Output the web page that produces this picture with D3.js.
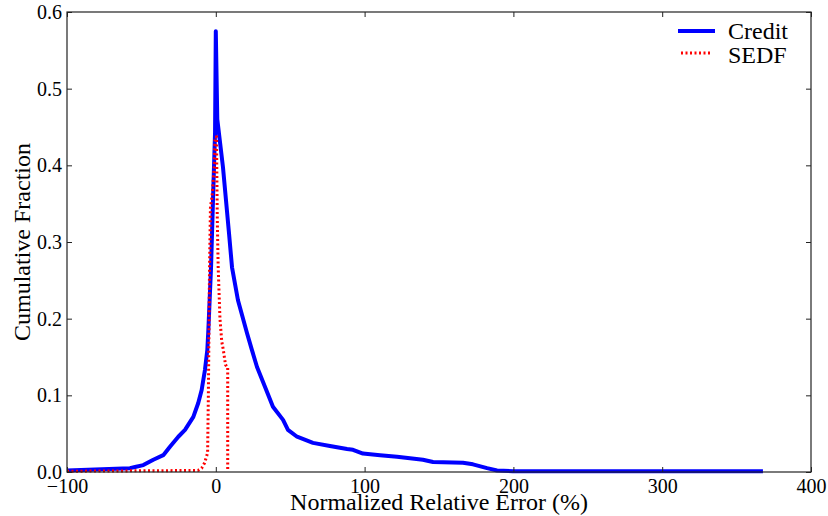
<!DOCTYPE html>
<html>
<head>
<meta charset="utf-8">
<script src="https://cdn.jsdelivr.net/npm/d3@7"></script>
<style>
  body { margin: 0; background: #fff; }
</style>
</head>
<body>
<div class="chart"></div>
<script>
var font = "Liberation Serif";

// Credit curve (x = error %, y = fraction)
var creditX = [-100, -57.7, -54.3, -48.7, -42, -35.3, -30.8, -25.2, -20.7, -15.1, -11.8, -9.5, -7.3, -5.7, -5.0,
  -3.2, -1.9, -0.5, 0,
  1.0, 4.8, 8.9, 10.9, 14.9, 21, 24.3, 27.7, 33.1, 38.4, 45.2, 48.5, 54.6, 65.3, 76.7, 88.2, 92.2,
  98.9, 110.4, 121.8, 139.2, 146, 166.1, 172.8, 182.3, 189, 199.7, 367.7];
var creditY = [0.002, 0.005, 0.0065, 0.009, 0.016, 0.022, 0.033, 0.046, 0.055, 0.072, 0.090, 0.107, 0.133, 0.159, 0.185,
  0.267, 0.354, 0.443, 0.575,
  0.46, 0.398, 0.311, 0.267, 0.224, 0.181, 0.159, 0.137, 0.111, 0.085, 0.068, 0.055, 0.046, 0.038, 0.034, 0.030, 0.029,
  0.024, 0.022, 0.020, 0.016, 0.013, 0.012, 0.010, 0.005, 0.002, 0.001, 0.001];

// SEDF curve
var sedfX = [-100, -12, -9.5, -7.5, -5.5, -5.0, -4.6, -4.2, -3.6, -2.5, -1, -0.5, 0.5, 0.6, 1.0, 1.6, 2.8, 4.0, 5.0, 6.5, 7.5, 8.0, 8.0];
var sedfY = [0.001, 0.002, 0.005, 0.012, 0.025, 0.1, 0.18, 0.27, 0.345, 0.36, 0.40, 0.437, 0.437, 0.41, 0.33, 0.267, 0.2, 0.17, 0.16, 0.14, 0.137, 0.137, 0.001];

var xTicks = [-100, 0, 100, 200, 300, 400];
var yTicks = [0, 0.1, 0.2, 0.3, 0.4, 0.5, 0.6];
var seriesNames = ["Credit", "SEDF"];

var margin = {top: 12, right: 17, bottom: 44, left: 67},
    width = 828 - margin.left - margin.right,
    height = 516 - margin.top - margin.bottom;

var svg = d3.select(".chart")
  .append("svg")
  .attr("width", 828)
  .attr("height", 516)
  .attr("font-family", font)
  .append("g")
  .attr("transform", "translate(" + margin.left + "," + margin.top + ")");

var x = d3.scaleLinear().domain([-100, 400]).range([0, width]);
var y = d3.scaleLinear().domain([0, 0.6]).range([height, 0]);

var credit = creditX.map(function(d, i) { return {x: d, y: creditY[i]}; });
var sedf = sedfX.map(function(d, i) { return {x: d, y: sedfY[i]}; });

var line = d3.line()
  .x(function(d) { return x(d.x); })
  .y(function(d) { return y(d.y); });

svg.append("path")
  .datum(credit)
  .attr("fill", "none")
  .attr("stroke", "#0000ff")
  .attr("stroke-width", 4)
  .attr("stroke-linejoin", "round")
  .attr("d", line);

svg.append("path")
  .datum(sedf)
  .attr("fill", "none")
  .attr("stroke", "#ff0000")
  .attr("stroke-width", 3)
  .attr("stroke-dasharray", "2,2.5")
  .attr("d", line);

// frame
svg.append("rect")
  .attr("width", width)
  .attr("height", height)
  .attr("fill", "none")
  .attr("stroke", "#222")
  .attr("stroke-width", 1.2);

var fmtX = function(d) { return d < 0 ? "\u2212" + Math.abs(d) : d; };

// axes with inward ticks
svg.append("g")
  .attr("transform", "translate(0," + height + ")")
  .call(d3.axisBottom(x).tickValues(xTicks).tickSize(-5).tickPadding(7).tickFormat(fmtX))
  .call(function(g) { g.select(".domain").remove(); });

svg.append("g")
  .call(d3.axisTop(x).tickValues(xTicks).tickSize(-5).tickFormat(""))
  .call(function(g) { g.select(".domain").remove(); });

svg.append("g")
  .call(d3.axisLeft(y).tickValues(yTicks).tickSize(-5).tickPadding(5).tickFormat(d3.format(".1f")))
  .call(function(g) { g.select(".domain").remove(); });

svg.append("g")
  .attr("transform", "translate(" + width + ",0)")
  .call(d3.axisRight(y).tickValues(yTicks).tickSize(-5).tickFormat(""))
  .call(function(g) { g.select(".domain").remove(); });

svg.selectAll("g").attr("font-family", font).attr("font-size", 20);
svg.selectAll(".tick line").attr("stroke", "#222");
svg.selectAll(".tick text").attr("fill", "#000");

// axis labels
svg.append("text")
  .attr("x", width / 2)
  .attr("y", height + 38)
  .attr("text-anchor", "middle")
  .attr("font-size", 24)
  .text("Normalized Relative Error (%)");

svg.append("text")
  .attr("transform", "rotate(-90)")
  .attr("x", -height / 2)
  .attr("y", -37)
  .attr("text-anchor", "middle")
  .attr("font-size", 24)
  .text("Cumulative Fraction");

// legend
var legend = svg.append("g").attr("transform", "translate(" + (width - 133) + ",19)");
legend.append("line")
  .attr("x1", 0).attr("x2", 37).attr("y1", 0).attr("y2", 0)
  .attr("stroke", "#0000ff").attr("stroke-width", 4);
legend.append("line")
  .attr("x1", 3).attr("x2", 33).attr("y1", 22).attr("y2", 22)
  .attr("stroke", "#ff0000").attr("stroke-width", 3).attr("stroke-dasharray", "2,2.5");
legend.selectAll("text.lg")
  .data(seriesNames)
  .enter()
  .append("text")
  .attr("class", "lg")
  .attr("x", 50)
  .attr("y", function(d, i) { return 8 + i * 24; })
  .attr("font-size", 24)
  .text(function(d) { return d; });
</script>
</body>
</html>
